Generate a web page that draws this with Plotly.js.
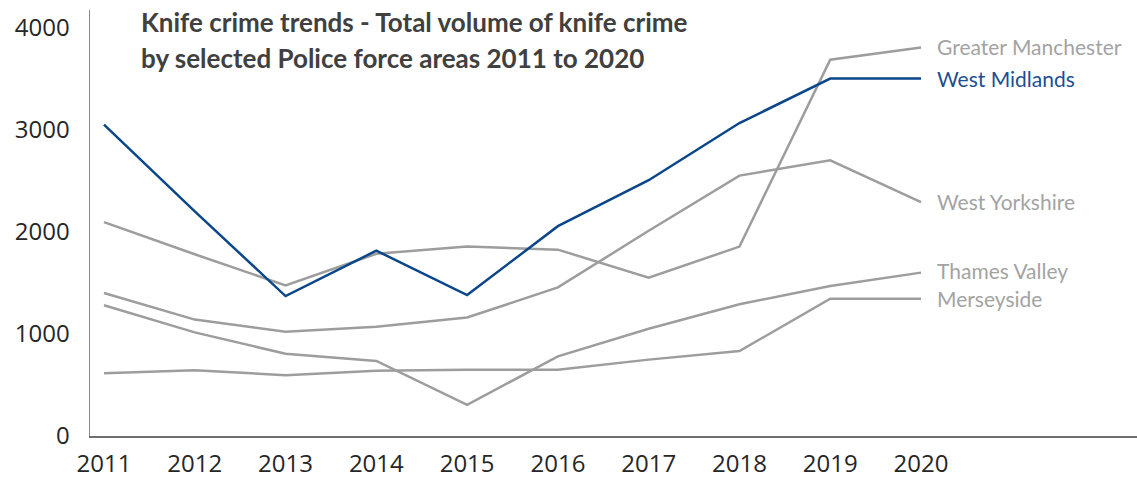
<!DOCTYPE html>
<html>
<head>
<meta charset="utf-8">
<script src="https://cdn.plot.ly/plotly-3.0.1.min.js"></script>
<style>html,body{margin:0;padding:0;background:#fff;}#chart{width:1137px;height:484px;}</style>
</head>
<body>
<div id="chart"></div>
<script>
const years = [2011, 2012, 2013, 2014, 2015, 2016, 2017, 2018, 2019, 2020];
const westMidlands     = [3050, 2200, 1370, 1815, 1380, 2055, 2505, 3065, 3500, 3500];
const greaterManchester = [2095, 1780, 1475, 1785, 1855, 1825, 1550, 1855, 3685, 3805];
const westYorkshire    = [1400, 1140, 1020, 1070, 1160, 1455, 2010, 2550, 2700, 2290];
const thamesValley     = [1280, 1015, 805, 735, 305, 780, 1050, 1290, 1470, 1600];
const merseyside       = [615, 645, 595, 640, 648, 650, 748, 832, 1344, 1344];
const yTicks = [0, 1000, 2000, 3000, 4000];
const titleLines = ["Knife crime trends - Total volume of knife crime", "by selected Police force areas 2011 to 2020"];

const GRAY = '#9d9d9d', GRAYTXT = '#a3a3a3', BLUE = '#0b468a', BLUETXT = '#1d4f91';

const series = [
  {name: 'Greater Manchester', y: greaterManchester, line: GRAY, txt: GRAYTXT, dy: 1},
  {name: 'West Yorkshire', y: westYorkshire, line: GRAY, txt: GRAYTXT, dy: 1},
  {name: 'Thames Valley', y: thamesValley, line: GRAY, txt: GRAYTXT, dy: 2},
  {name: 'Merseyside', y: merseyside, line: GRAY, txt: GRAYTXT, dy: 0},
  {name: 'West Midlands', y: westMidlands, line: BLUE, txt: BLUETXT, dy: 0}
];

const traces = series.map(s => ({
  x: years, y: s.y, type: 'scatter', mode: 'lines', name: s.name,
  line: {color: s.line, width: 2.5}, hoverinfo: 'skip'
}));

const annotations = series.map(s => ({
  x: years[years.length - 1], y: s.y[s.y.length - 1], xref: 'x', yref: 'y',
  text: s.name, showarrow: false, xanchor: 'left', yanchor: 'middle', xshift: 14, yshift: s.dy,
  font: {family: 'Lato, sans-serif', size: 21, color: s.txt}
}));

annotations.push({
  x: (139 - 90) / 1047, y: (436 - 22) / 426, xref: 'paper', yref: 'paper',
  text: '<b>' + titleLines[0] + '</b>', showarrow: false, xanchor: 'left', yanchor: 'middle',
  font: {family: 'Lato, sans-serif', size: 26, color: '#404040'}
});
annotations.push({
  x: (139 - 90) / 1047, y: (436 - 58) / 426, xref: 'paper', yref: 'paper',
  text: '<b>' + titleLines[1] + '</b>', showarrow: false, xanchor: 'left', yanchor: 'middle',
  font: {family: 'Lato, sans-serif', size: 26, color: '#404040'}
});

const layout = {
  width: 1137, height: 484,
  margin: {l: 90, r: 0, t: 10, b: 48, pad: 0},
  paper_bgcolor: '#fff', plot_bgcolor: '#fff',
  showlegend: false,
  xaxis: {
    range: [2010.846, 2022.379], tickvals: years, ticktext: years.map(String),
    showgrid: false, zeroline: false, showline: true, linecolor: '#6e6e6e', linewidth: 1.5,
    ticks: '', ticklabelstandoff: 6,
    tickfont: {family: 'Open Sans, sans-serif', size: 24, color: '#262626'}
  },
  yaxis: {
    range: [0, 4172], tickvals: yTicks, ticktext: yTicks.map(String),
    showgrid: false, zeroline: false, showline: true, linecolor: '#8a8a8a', linewidth: 1.5,
    ticks: '', ticklabelstandoff: 14,
    tickfont: {family: 'Open Sans, sans-serif', size: 24, color: '#262626'}
  },
  annotations: annotations
};

Plotly.newPlot('chart', traces, layout, {displayModeBar: false, staticPlot: true});
</script>
</body>
</html>
